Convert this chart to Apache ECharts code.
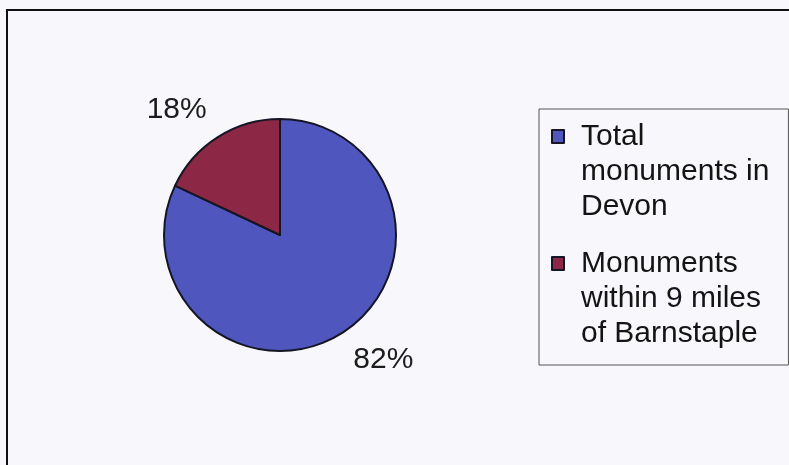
<!DOCTYPE html>
<html>
<head>
<meta charset="utf-8">
<script src="https://cdn.jsdelivr.net/npm/echarts@6/dist/echarts.min.js"></script>
<style>
html,body{margin:0;padding:0;background:#f8f8fc;}
#main{width:789px;height:465px;}
</style>
</head>
<body>
<div id="main"></div>
<script>
var categories = ['Total monuments in Devon', 'Monuments within 9 miles of Barnstaple'];
var legendLabels = ['Total\nmonuments in\nDevon', 'Monuments\nwithin 9 miles\nof Barnstaple'];
var values = [82, 18];
var colors = ['#4f57bf', '#8c2846'];

var chart = echarts.init(document.getElementById('main'), null, {renderer: 'canvas'});
var font = '"Liberation Sans", Arial, sans-serif';

var option = {
  backgroundColor: '#f8f8fc',
  animation: false,
  graphic: [{
    type: 'rect',
    shape: {x: 7, y: 10, width: 800, height: 470},
    style: {fill: 'none', stroke: '#111', lineWidth: 2},
    silent: true
  }],
  legend: {
    orient: 'vertical',
    left: 539,
    top: 109,
    padding: [9, 19, 13, 12],
    itemGap: 20,
    itemWidth: 24,
    itemHeight: 105,
    icon: 'path://M0,0M24,105M0,11h12v13h-12z',
    borderColor: '#555',
    borderWidth: 1,
    backgroundColor: 'transparent',
    selectedMode: false,
    data: categories,
    formatter: function (name) {
      return legendLabels[categories.indexOf(name)];
    },
    textStyle: {
      fontFamily: font,
      fontSize: 30,
      lineHeight: 35,
      color: '#141414'
    }
  },
  series: [{
    type: 'pie',
    center: [280, 235],
    radius: 116,
    startAngle: 90,
    clockwise: true,
    avoidLabelOverlap: false,
    itemStyle: {borderColor: '#151525', borderWidth: 2},
    label: {
      show: true,
      position: 'outside',
      formatter: '{c}%',
      fontFamily: font,
      fontSize: 30,
      color: '#1c1c1c',
      distanceToLabelLine: -6
    },
    labelLine: {show: false, length: 32, length2: 0},
    emphasis: {disabled: true},
    data: categories.map(function (c, i) {
      return {name: c, value: values[i], itemStyle: {color: colors[i]}};
    })
  }]
};
chart.setOption(option);
</script>
</body>
</html>
